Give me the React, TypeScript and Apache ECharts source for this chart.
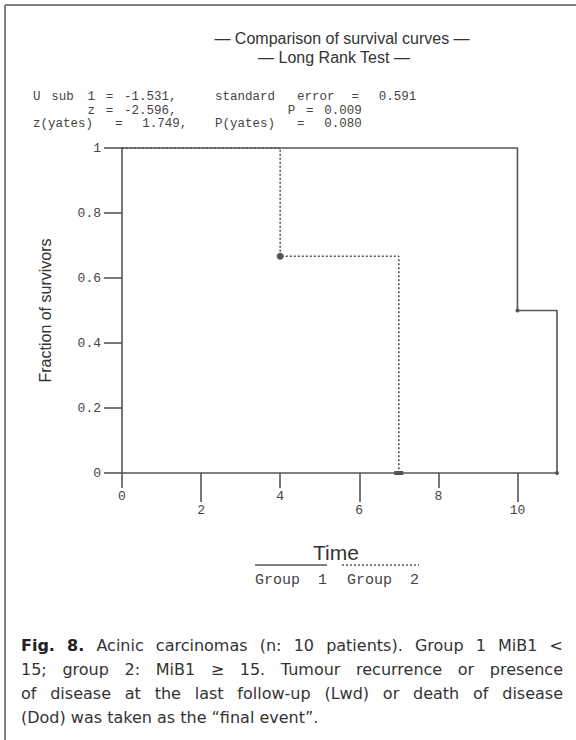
import React, { useEffect, useRef } from "react";
import * as echarts from "echarts";

// ---- data ----
const group1Time = [0, 10, 11];
const group1Surv = [1, 0.5, 0];
const group2Time = [0, 4, 7];
const group2Surv = [1, 0.667, 0];
const groupNames = ["Group  1", "Group  2"];
const xTicksShort = [0, 4, 8];
const xTicksLong = [2, 6, 10];
const titleLines = ["— Comparison of survival curves —", "— Long Rank Test —"];
const statsLines = [
  "U sub 1 = -1.531,   standard error =  0.591",
  "      z = -2.596,           P = 0.009",
  "z(yates) =  1.749,  P(yates) =  0.080",
];
const yAxisTitle = "Fraction of survivors";
const xAxisTitle = "Time";
const captionBold = ["Fig.", "8."];
const captionLines = [
  "Acinic carcinomas (n: 10 patients). Group 1 MiB1 <",
  "15; group 2: MiB1 ≥ 15. Tumour recurrence or presence",
  "of disease at the last follow-up (Lwd) or death of disease",
  "(Dod) was taken as the “final event”.",
];

const MONO = "Liberation Mono";
const SANS = "Liberation Sans";
const CAP = "DejaVu Sans";
const INK = "#555";

function buildCaption(): any[] {
  const canvas = document.createElement("canvas");
  const ctx = canvas.getContext("2d")!;
  const size = 16;
  const x0 = 21;
  const x1 = 563;
  const els: any[] = [];
  captionLines.forEach((line, i) => {
    const words: { t: string; b: boolean }[] = [];
    if (i === 0) captionBold.forEach((t) => words.push({ t, b: true }));
    line.split(" ").forEach((t) => words.push({ t, b: false }));
    const widths = words.map((w) => {
      ctx.font = `${w.b ? "bold " : ""}${size}px "${CAP}"`;
      return ctx.measureText(w.t).width;
    });
    ctx.font = `${size}px "${CAP}"`;
    const space = ctx.measureText(" ").width;
    const total = widths.reduce((a, b) => a + b, 0);
    const justify = i < captionLines.length - 1;
    const gap = justify ? (x1 - x0 - total) / (words.length - 1) : space;
    let x = x0;
    const y = 645 + i * 24;
    words.forEach((w, k) => {
      els.push({
        type: "text",
        x,
        y,
        style: {
          text: w.t,
          fill: w.b ? "#222" : "#333",
          fontSize: size,
          fontFamily: CAP,
          fontWeight: w.b ? "bold" : "normal",
          textAlign: "left",
          align: "left",
          textVerticalAlign: "middle",
          verticalAlign: "middle",
        },
      });
      x += widths[k] + gap;
    });
  });
  return els;
}

function buildStats(): any[] {
  const els: any[] = [];
  const x0 = 33;
  const cw = 9.1;
  statsLines.forEach((line, i) => {
    const re = /\S+/g;
    let m: RegExpExecArray | null;
    while ((m = re.exec(line))) {
      els.push({
        type: "text",
        x: x0 + m.index * cw,
        y: 97 + i * 13.5,
        style: {
          text: m[0],
          fill: "#444",
          fontSize: 12.5,
          fontFamily: MONO,
          textAlign: "left",
          align: "left",
          textVerticalAlign: "middle",
          verticalAlign: "middle",
        },
      });
    }
  });
  return els;
}

export default function App() {
  const ref = useRef<HTMLDivElement>(null);
  useEffect(() => {
    if (!ref.current) return;
    const chart = echarts.init(ref.current, undefined, { renderer: "svg" });
    const axisLine = { color: INK, width: 1.6 };
    const monoLabel = { fontFamily: MONO, fontSize: 13, color: "#444" };

    const g1 = group1Time.map((t, i) => ({
      value: [t, group1Surv[i]],
      symbol: i === 0 ? "none" : "circle",
      symbolSize: 4,
    }));
    const g2 = group2Time.map((t, i) => ({
      value: [t, group2Surv[i]],
      symbol: i === 0 ? "none" : i === 1 ? "circle" : "rect",
      symbolSize: i === 1 ? 7 : [9, 4],
    }));

    const textStyle = (extra: any) => ({
      fontFamily: SANS,
      fill: "#333",
      textAlign: "center",
      align: "center",
      textVerticalAlign: "middle",
      verticalAlign: "middle",
      ...extra,
    });
    const legendText = (text: string) => ({
      text,
      fontFamily: MONO,
      fontSize: 15,
      fill: "#444",
      textAlign: "left",
      align: "left",
      textVerticalAlign: "middle",
      verticalAlign: "middle",
    });

    const graphics: any[] = [
      { type: "line", shape: { x1: 5, y1: 5, x2: 576, y2: 5 }, style: { stroke: "#808080", lineWidth: 2 } },
      { type: "line", shape: { x1: 5, y1: 5, x2: 5, y2: 740 }, style: { stroke: "#808080", lineWidth: 2 } },
      { type: "text", x: 342, y: 38, style: textStyle({ text: titleLines[0], fontSize: 16 }) },
      { type: "text", x: 334, y: 57, style: textStyle({ text: titleLines[1], fontSize: 16 }) },
      ...buildStats(),
      { type: "text", x: 336, y: 552, style: textStyle({ text: xAxisTitle, fontSize: 21 }) },
      { type: "line", shape: { x1: 255, y1: 565, x2: 327, y2: 565 }, style: { stroke: INK, lineWidth: 1.6 } },
      { type: "line", shape: { x1: 342, y1: 565, x2: 419, y2: 565 }, style: { stroke: INK, lineWidth: 1.6, lineDash: [2, 2] } },
      { type: "text", x: 255, y: 580, style: legendText(groupNames[0]) },
      { type: "text", x: 347, y: 580, style: legendText(groupNames[1]) },
      ...buildCaption(),
    ];

    chart.setOption({
      animation: false,
      backgroundColor: "#fff",
      grid: { left: 122, top: 148, width: 435, height: 325, containLabel: false, outerBoundsMode: "none" },
      xAxis: [
        {
          type: "value",
          min: 0,
          max: 11,
          position: "bottom",
          axisLine: { show: true, onZero: false, lineStyle: axisLine },
          axisTick: { show: true, length: 15, customValues: xTicksShort, lineStyle: axisLine },
          axisLabel: { show: true, margin: 17, customValues: xTicksShort, ...monoLabel },
          splitLine: { show: false },
        },
        {
          type: "value",
          min: 0,
          max: 11,
          position: "bottom",
          axisLine: { show: false, onZero: false },
          axisTick: { show: true, length: 29, customValues: xTicksLong, lineStyle: axisLine },
          axisLabel: { show: true, margin: 31, customValues: xTicksLong, ...monoLabel },
          splitLine: { show: false },
        },
      ],
      yAxis: {
        type: "value",
        min: 0,
        max: 1,
        interval: 0.2,
        axisLine: { show: true, onZero: false, lineStyle: axisLine },
        axisTick: { show: true, length: 18, lineStyle: axisLine },
        axisLabel: {
          margin: 21,
          ...monoLabel,
          formatter: (v: number) => String(Math.round(v * 10) / 10),
        },
        splitLine: { show: false },
        name: yAxisTitle,
        nameLocation: "middle",
        nameGap: 69,
        nameRotate: 90,
        nameTextStyle: { fontFamily: SANS, fontSize: 16, color: "#333" },
      },
      series: [
        {
          name: groupNames[0],
          type: "line",
          step: "end",
          data: g1,
          clip: false,
          lineStyle: { color: INK, width: 1.6, type: "solid" },
          itemStyle: { color: INK },
          z: 3,
        },
        {
          name: groupNames[1],
          type: "line",
          step: "end",
          data: g2,
          clip: false,
          lineStyle: { color: INK, width: 1.6, type: [2, 2] },
          itemStyle: { color: INK },
          z: 4,
        },
      ],
      graphic: graphics,
    });
    return () => chart.dispose();
  }, []);
  return (
    <div
      ref={ref}
      style={{ position: "fixed", left: 0, top: 0, width: 576, height: 740, background: "#fff" }}
    />
  );
}
